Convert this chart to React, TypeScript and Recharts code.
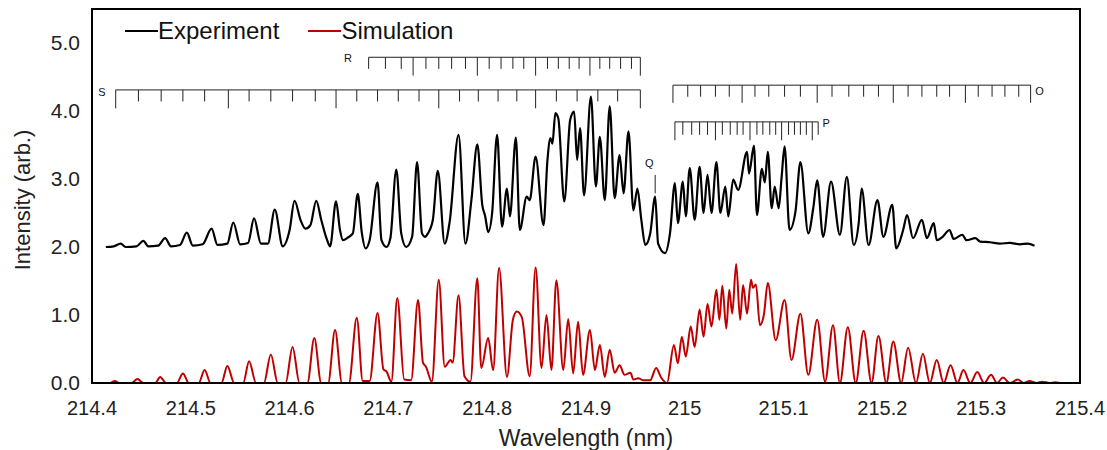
import {
  LineChart,
  Line,
  XAxis,
  YAxis,
  ReferenceLine,
  ReferenceArea,
  ReferenceDot,
  Legend,
} from "recharts";

const xTicks = [214.4, 214.5, 214.6, 214.7, 214.8, 214.9, 215.0, 215.1, 215.2, 215.3, 215.4];
const yTicks = [0, 1, 2, 3, 4, 5];

// [wavelength (nm), intensity]
const experiment: [number, number][] = [
  [214.414, 2.0], [214.422, 2.01], [214.429, 2.05], [214.434, 2.0], [214.445, 2.01],
  [214.452, 2.09], [214.457, 2.01], [214.467, 2.02], [214.474, 2.13], [214.48, 2.01],
  [214.489, 2.03], [214.496, 2.21], [214.502, 2.02], [214.512, 2.04], [214.521, 2.27],
  [214.527, 2.03], [214.537, 2.05], [214.543, 2.36], [214.55, 2.04], [214.558, 2.06],
  [214.564, 2.42], [214.571, 2.05], [214.578, 2.05], [214.585, 2.55], [214.593, 2.01],
  [214.6, 2.25], [214.605, 2.68], [214.611, 2.4], [214.616, 2.27], [214.621, 2.32],
  [214.627, 2.68], [214.632, 2.4], [214.638, 2.1], [214.641, 2.01], [214.647, 2.67],
  [214.651, 2.25], [214.654, 2.1], [214.659, 2.14], [214.664, 2.2], [214.669, 2.78],
  [214.673, 2.22], [214.677, 1.98], [214.681, 2.1], [214.689, 2.95], [214.693, 2.1],
  [214.698, 2.0], [214.702, 2.13], [214.708, 3.14], [214.713, 2.2], [214.718, 2.0],
  [214.724, 2.15], [214.729, 3.25], [214.734, 2.2], [214.737, 2.15], [214.74, 2.2],
  [214.745, 2.4], [214.75, 3.12], [214.757, 2.05], [214.762, 2.37], [214.771, 3.65],
  [214.778, 2.05], [214.784, 2.69], [214.79, 3.51], [214.795, 2.62], [214.798, 2.45],
  [214.801, 2.22], [214.805, 2.5], [214.81, 3.65], [214.815, 2.3], [214.82, 2.86],
  [214.823, 2.45], [214.829, 3.61], [214.833, 2.25], [214.84, 2.74], [214.843, 2.69],
  [214.849, 3.33], [214.857, 2.32], [214.861, 3.28], [214.864, 3.6], [214.866, 3.52],
  [214.869, 3.97], [214.872, 3.89], [214.878, 2.67], [214.884, 3.87], [214.888, 3.99],
  [214.891, 3.28], [214.894, 3.75], [214.898, 2.76], [214.905, 4.21], [214.91, 2.89],
  [214.914, 3.62], [214.919, 2.69], [214.924, 4.07], [214.929, 2.72], [214.934, 3.35],
  [214.938, 2.79], [214.943, 3.7], [214.948, 2.54], [214.952, 2.86], [214.956, 2.4],
  [214.96, 2.03], [214.965, 2.2], [214.97, 2.74], [214.973, 2.05], [214.98, 1.91],
  [214.985, 2.2], [214.99, 2.94], [214.993, 2.35], [214.998, 2.96], [215.001, 2.45],
  [215.005, 3.16], [215.01, 2.4], [215.015, 3.18], [215.019, 2.5], [215.023, 3.06],
  [215.027, 2.5], [215.032, 3.25], [215.036, 2.5], [215.041, 2.89], [215.044, 2.45],
  [215.049, 2.99], [215.054, 2.84], [215.063, 3.4], [215.065, 3.08], [215.07, 3.49],
  [215.073, 2.47], [215.078, 3.15], [215.081, 2.95], [215.084, 3.4], [215.088, 2.57],
  [215.091, 2.89], [215.095, 2.57], [215.098, 3.03], [215.101, 3.48], [215.106, 2.25],
  [215.112, 2.52], [215.117, 3.25], [215.125, 2.2], [215.13, 2.57], [215.134, 2.98],
  [215.14, 2.15], [215.148, 2.96], [215.157, 2.18], [215.164, 3.03], [215.171, 2.03],
  [215.176, 2.35], [215.179, 2.86], [215.186, 2.03], [215.195, 2.69], [215.201, 2.15],
  [215.21, 2.62], [215.214, 1.98], [215.221, 2.25], [215.225, 2.47], [215.231, 2.13],
  [215.24, 2.4], [215.245, 2.13], [215.252, 2.35], [215.255, 2.1], [215.261, 2.15],
  [215.268, 2.25], [215.272, 2.12], [215.281, 2.18], [215.285, 2.1], [215.294, 2.13],
  [215.299, 2.08], [215.309, 2.07], [215.319, 2.05], [215.329, 2.06], [215.339, 2.04],
  [215.347, 2.05], [215.354, 2.02],
];

const simulation: [number, number][] = [
  [214.4, 0], [214.418, 0], [214.423, 0.03], [214.428, 0], [214.44, 0], [214.446, 0.06],
  [214.452, 0], [214.464, 0], [214.469, 0.09], [214.475, 0], [214.486, 0], [214.492, 0.14],
  [214.498, 0], [214.508, 0], [214.514, 0.19], [214.52, 0], [214.531, 0], [214.537, 0.25],
  [214.544, 0], [214.553, 0], [214.559, 0.32], [214.566, 0], [214.574, 0], [214.581, 0.42],
  [214.588, 0], [214.596, 0], [214.603, 0.53], [214.61, 0], [214.618, 0], [214.625, 0.66],
  [214.632, 0], [214.639, 0], [214.646, 0.78], [214.653, 0], [214.66, 0], [214.668, 0.96],
  [214.674, 0.03], [214.681, 0.03], [214.689, 1.03], [214.695, 0.2], [214.698, 0.17],
  [214.703, 0.02], [214.709, 1.25], [214.716, 0.05], [214.723, 0.04], [214.73, 1.22],
  [214.735, 0.3], [214.738, 0.24], [214.744, 0.02], [214.751, 1.52], [214.757, 0.24],
  [214.763, 0.34], [214.765, 0.3], [214.771, 1.29], [214.777, 0.1], [214.783, 0.02],
  [214.79, 1.54], [214.794, 0.22], [214.801, 0.66], [214.806, 0.19], [214.812, 1.69],
  [214.82, 0.09], [214.826, 0.93], [214.83, 1.05], [214.835, 0.97], [214.843, 0.1],
  [214.849, 1.7], [214.855, 0.22], [214.86, 1.0], [214.865, 0.19], [214.87, 1.51],
  [214.877, 0.19], [214.882, 0.94], [214.887, 0.14], [214.892, 0.9], [214.897, 0.12],
  [214.904, 0.78], [214.909, 0.19], [214.914, 0.56], [214.919, 0.09], [214.924, 0.49],
  [214.929, 0.15], [214.934, 0.26], [214.939, 0.12], [214.945, 0.15], [214.948, 0.05],
  [214.953, 0.07], [214.958, 0.04], [214.965, 0.04], [214.971, 0.22], [214.976, 0.08],
  [214.982, 0], [214.989, 0.56], [214.993, 0.29], [214.997, 0.68], [215.001, 0.39],
  [215.006, 0.83], [215.01, 0.53], [215.015, 1.08], [215.019, 0.68], [215.023, 1.16],
  [215.027, 0.83], [215.032, 1.37], [215.035, 0.93], [215.038, 1.43], [215.042, 0.8],
  [215.045, 1.37], [215.048, 1.02], [215.052, 1.75], [215.056, 0.93], [215.059, 1.44],
  [215.063, 1.02], [215.067, 1.52], [215.069, 1.4], [215.072, 1.45], [215.076, 0.85],
  [215.08, 1.0], [215.084, 1.47], [215.092, 0.63], [215.101, 1.22], [215.108, 0.34],
  [215.117, 1.02], [215.125, 0.12], [215.134, 0.93], [215.142, 0.02], [215.15, 0.85],
  [215.157, 0], [215.165, 0.82], [215.173, 0], [215.181, 0.77], [215.189, 0],
  [215.196, 0.69], [215.204, 0], [215.211, 0.61], [215.219, 0], [215.226, 0.52],
  [215.234, 0], [215.241, 0.43], [215.248, 0], [215.255, 0.34], [215.262, 0],
  [215.269, 0.26], [215.276, 0], [215.282, 0.19], [215.289, 0], [215.296, 0.16],
  [215.303, 0], [215.31, 0.12], [215.316, 0], [215.322, 0.08], [215.329, 0],
  [215.337, 0.05], [215.343, 0], [215.349, 0.03], [215.356, 0], [215.362, 0.02],
  [215.369, 0], [215.375, 0.01], [215.381, 0], [215.4, 0],
];

// line positions of the rotational branches (nm)
const sBranch = [
  214.424, 214.447, 214.47, 214.492, 214.514, 214.538, 214.559, 214.581, 214.603, 214.626,
  214.647, 214.668, 214.689, 214.71, 214.731, 214.751, 214.772, 214.791, 214.811, 214.83,
  214.849, 214.87, 214.891, 214.912, 214.932, 214.955,
];
const rBranch = [
  214.68, 214.697, 214.713, 214.725, 214.738, 214.751, 214.764, 214.778, 214.79, 214.802,
  214.814, 214.826, 214.837, 214.849, 214.861, 214.872, 214.883, 214.893, 214.904, 214.914,
  214.924, 214.935, 214.946, 214.955,
];
const oBranch = [
  214.988, 215.003, 215.016, 215.031, 215.045, 215.058, 215.071, 215.085, 215.101, 215.117,
  215.134, 215.149, 215.166, 215.181, 215.196, 215.211, 215.226, 215.24, 215.255, 215.268,
  215.284, 215.297, 215.311, 215.324, 215.338, 215.35,
];
const pBranch = [
  214.99, 214.998, 215.007, 215.015, 215.023, 215.031, 215.038, 215.046, 215.053, 215.059,
  215.066, 215.073, 215.079, 215.086, 215.092, 215.098, 215.105, 215.111, 215.117, 215.123,
  215.129, 215.135,
];
const qBranch = [214.97];

const combs = [
  { name: "S", lines: sBranch, y: 4.31, short: 4.14, long: 4.04, major: (i: number) => i % 5 === 0, lx: 214.41, ly: 4.28 },
  { name: "R", lines: rBranch, y: 4.79, short: 4.62, long: 4.52, major: (i: number) => i % 5 === 3, lx: 214.659, ly: 4.78 },
  { name: "O", lines: oBranch, y: 4.38, short: 4.21, long: 4.12, major: (i: number) => i % 5 === 0, lx: 215.359, ly: 4.3 },
  { name: "P", lines: pBranch, y: 3.84, short: 3.65, long: 3.57, major: (i: number) => i % 5 === 0 && i < 21, lx: 215.143, ly: 3.82 },
  { name: "Q", lines: qBranch, y: 3.06, short: 2.79, long: 2.79, major: () => false, lx: 214.964, ly: 3.24 },
];

const expData = experiment.map(([wl, v]) => ({ wl, v }));
const simData = simulation.map(([wl, v]) => ({ wl, v }));

const font = "'Liberation Sans', Arial, sans-serif";
const combColor = "#222";

const renderLegend = (props: any) => (
  <div style={{ display: "flex", gap: 29, fontFamily: font, fontSize: 24, color: "#111" }}>
    {props.payload.map((p: any) => (
      <span key={p.value} style={{ display: "flex", alignItems: "center" }}>
        <span style={{ display: "inline-block", width: 33, height: 2, background: p.color }} />
        <span>{p.value}</span>
      </span>
    ))}
  </div>
);

const branchLabel = (text: string) => (p: any) => (
  <text
    x={p.viewBox.x}
    y={p.viewBox.y}
    textAnchor="middle"
    dominantBaseline="central"
    fontSize={11}
    fontFamily={font}
    fill="#111"
  >
    {text}
  </text>
);

export default function App() {
  return (
    <div style={{ position: "absolute", left: 0, top: 0, background: "#fff" }}>
      <LineChart width={1107} height={450} margin={{ top: 9, right: 27, bottom: 0, left: 0 }}>
        <XAxis
          dataKey="wl"
          type="number"
          domain={[214.4, 215.4]}
          ticks={xTicks}
          tickFormatter={(v: number) => String(+v.toFixed(1))}
          tickLine={false}
          tickMargin={12}
          height={67}
          axisLine={{ stroke: "#000", strokeWidth: 2 }}
          tick={{ fontSize: 20, fill: "#222", fontFamily: font }}
          label={{
            content: (p: any) => (
              <text
                x={p.viewBox.x + p.viewBox.width / 2}
                y={446}
                textAnchor="middle"
                fontSize={23}
                fontFamily={font}
                fill="#222"
              >
                Wavelength (nm)
              </text>
            ),
          }}
        />
        <YAxis
          type="number"
          domain={[0, 5.5]}
          ticks={yTicks}
          tickFormatter={(v: number) => v.toFixed(1)}
          tickLine={false}
          tickMargin={6}
          width={92}
          axisLine={{ stroke: "#000", strokeWidth: 2 }}
          tick={{ fontSize: 21, fill: "#222", fontFamily: font }}
          label={{
            content: (p: any) => {
              const cy = p.viewBox.y + p.viewBox.height / 2 + 4;
              return (
                <text
                  x={22}
                  y={cy}
                  transform={`rotate(-90 22 ${cy})`}
                  textAnchor="middle"
                  dominantBaseline="central"
                  fontSize={22}
                  fontFamily={font}
                  fill="#222"
                >
                  Intensity (arb.)
                </text>
              );
            },
          }}
        />
        <ReferenceArea
          x1={214.4}
          x2={215.4}
          y1={0}
          y2={5.5}
          fill="none"
          stroke="#000"
          strokeWidth={2}
          ifOverflow="visible"
        />
        <Legend
          content={renderLegend}
          layout="horizontal"
          verticalAlign="middle"
          align="center"
          wrapperStyle={{ top: 17, left: 125, width: "auto" }}
        />
        {combs.flatMap((c) => [
          c.lines.length > 1 ? (
            <ReferenceLine
              key={c.name + "-h"}
              segment={[
                { x: c.lines[0], y: c.y },
                { x: c.lines[c.lines.length - 1], y: c.y },
              ]}
              stroke={combColor}
              strokeWidth={1}
            />
          ) : null,
          ...c.lines.map((wl, i) => (
            <ReferenceLine
              key={c.name + "-" + i}
              segment={[
                { x: wl, y: c.y },
                { x: wl, y: c.major(i) ? c.long : c.short },
              ]}
              stroke={combColor}
              strokeWidth={1}
            />
          )),
          <ReferenceDot
            key={c.name + "-label"}
            x={c.lx}
            y={c.ly}
            r={0}
            fill="none"
            stroke="none"
            label={{ content: branchLabel(c.name) }}
          />,
        ])}
        <Line
          data={expData}
          dataKey="v"
          name="Experiment"
          type="monotone"
          stroke="#000"
          strokeWidth={2.2}
          dot={false}
          activeDot={false}
          isAnimationActive={false}
        />
        <Line
          data={simData}
          dataKey="v"
          name="Simulation"
          type="monotone"
          stroke="#C00000"
          strokeWidth={2}
          dot={false}
          activeDot={false}
          isAnimationActive={false}
        />
      </LineChart>
    </div>
  );
}
